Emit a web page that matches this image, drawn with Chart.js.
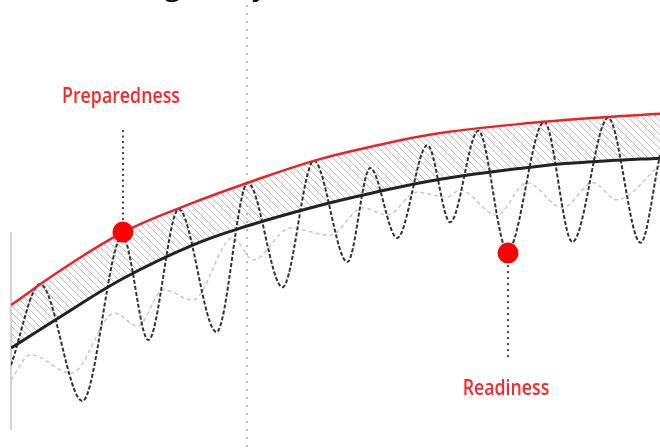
<!DOCTYPE html>
<html>
<head>
<meta charset="utf-8">
<title>Preparedness and Readiness</title>
<script src="https://cdn.jsdelivr.net/npm/chart.js@4.4.1/dist/chart.umd.min.js"></script>
<style>
  html, body { margin: 0; padding: 0; background: #fff; overflow: hidden; }
  #wrap { position: relative; width: 660px; height: 448px; }
  #title {
    position: absolute; left: 102px; top: -31.5px; margin: 0;
    font: 400 30px/30px 'Open Sans', sans-serif; color: #111; white-space: nowrap;
  }
  canvas { position: absolute; left: 0; top: 0; }
</style>
</head>
<body>
<div id="wrap">
  <h1 id="title">Being ready</h1>
  <canvas id="myChart" width="660" height="448"></canvas>
</div>
<script>
'use strict';

// ************* DATA *******************

// time axis for the two smooth trend curves
let trendX = [0, 4.5, 10.4, 16.8, 21.9, 28, 33.2, 39.7, 49.2, 55.2, 60];
// upper (red) curve
let preparednessLevel = [31.9, 39.5, 48.2, 54.7, 59.2, 64.1, 67.2, 70.3, 72.8, 73.9, 74.6];
// lower (black) curve
let baselineLevel = [22.3, 29.2, 37.9, 45.3, 49.6, 53.8, 56.8, 60.0, 63.0, 64.1, 64.7];

// black dashed wave - peaks and troughs
let activityX = [0, 2.7, 6.6, 10.3, 12.7, 15.5, 19.0, 21.9, 25.1, 28.0, 31.1, 33.2, 35.7, 38.5, 40.6, 43.2, 45.9, 49.3, 51.9, 55.2, 58.2, 60];
let activityLevel = [18.5, 36.6, 10.5, 47.3, 24.1, 53.3, 25.9, 59.2, 35.9, 64.1, 41.5, 62.5, 46.9, 67.6, 50.4, 70.8, 44.0, 72.8, 46.0, 73.7, 45.8, 65.4];

// light gray dashed wave
let echoX = [0, 1.8, 5.6, 9.6, 11.7, 14.1, 16.8, 20.5, 22.4, 25.8, 29.5, 32.5, 34.8, 37.5, 40.3, 41.5, 44.9, 47.7, 51.0, 53.8, 56.0, 60];
let echoLevel = [15.2, 20.8, 16.7, 30.1, 27.2, 35.3, 33.0, 46.9, 42.0, 49.1, 47.5, 53.6, 52.0, 57.1, 56.0, 57.6, 52.0, 59.2, 53.6, 59.2, 55.4, 63.2];

// the two called-out points
let markerNames = ['Preparedness', 'Readiness'];
let markerX = [10.35, 45.95];
let markerY = [48.2, 43.5];

// vertical dotted milestone + short axis on the left
let milestoneX = [21.8];
let axisSpan = [4, 48.2];

// ************* HELPERS *******************

function toPoints(xs, ys) {
  let pts = [];
  for (let i = 0; i < xs.length; i++) {
    pts.push({ x: xs[i], y: ys[i] });
  }
  return pts;
}

// diagonal hatch for the band between the curves
function makeHatch() {
  let s = 7;
  let c = document.createElement('canvas');
  c.width = s;
  c.height = s;
  let p = c.getContext('2d');
  p.strokeStyle = '#c2c2c2';
  p.lineWidth = 1;
  p.beginPath();
  p.moveTo(0, 0); p.lineTo(s, s);
  p.moveTo(-1, s - 1); p.lineTo(1, s + 1);
  p.moveTo(s - 1, -1); p.lineTo(s + 1, 1);
  p.stroke();
  return p.createPattern(c, 'repeat');
}

// draw a label squeezed to a narrow (condensed) look
function narrowText(ctx, text, cx, baseline, squeeze) {
  ctx.save();
  ctx.translate(cx, baseline);
  ctx.scale(squeeze, 1);
  ctx.fillText(text, 0, 0);
  ctx.restore();
}

// ************* DECORATION PLUGIN *******************

const decorations = {
  id: 'decorations',
  beforeDatasetsDraw(chart) {
    let ctx = chart.ctx;
    let xs = chart.scales.x;
    let ys = chart.scales.y;
    ctx.save();
    // milestone dotted line
    ctx.fillStyle = '#bbbbbb';
    milestoneX.forEach(function (v) {
      let px = Math.round(xs.getPixelForValue(v));
      for (let y = 5; y < chart.height; y += 8) {
        ctx.fillRect(px - 1, y, 2, 2);
      }
    });
    // short left axis
    ctx.strokeStyle = '#c4c4c4';
    ctx.lineWidth = 1.5;
    ctx.beginPath();
    let ax = xs.getPixelForValue(0);
    ctx.moveTo(ax, ys.getPixelForValue(axisSpan[0]));
    ctx.lineTo(ax, ys.getPixelForValue(axisSpan[1]));
    ctx.stroke();
    ctx.restore();
  },
  afterDraw(chart) {
    let ctx = chart.ctx;
    let xs = chart.scales.x;
    let ys = chart.scales.y;
    ctx.save();
    ctx.font = '600 22px "Open Sans", "DejaVu Sans", sans-serif';
    ctx.textAlign = 'center';
    ctx.textBaseline = 'alphabetic';
    for (let i = 0; i < markerNames.length; i++) {
      let px = Math.round(xs.getPixelForValue(markerX[i]));
      let py = ys.getPixelForValue(markerY[i]);
      // first label sits above its point, the second one below
      let up = i === 0;
      let y0 = up ? py - 14 : py + 12;
      let y1 = up ? py - 104 : py + 108;
      ctx.fillStyle = '#444';
      let step = up ? -5.5 : 6;
      for (let y = y0; up ? y > y1 : y < y1; y += step) {
        ctx.fillRect(px - 1, y, 2, 2);
      }
      // condensed look: 'Preparedness' ends up about 118px wide
      let w = ctx.measureText(markerNames[0]).width;
      let squeeze = Math.min(1, 118 / w);
      ctx.fillStyle = '#ff2626';
      narrowText(ctx, markerNames[i], px - 2, up ? py - 129 : py + 142, squeeze);
    }
    ctx.restore();
  }
};

// ************* CHART *******************

const ctx = document.getElementById('myChart').getContext('2d');

const chartObj = {
  type: 'line',
  data: {
    datasets: [
      {
        label: 'markers',
        data: toPoints(markerX, markerY),
        showLine: false,
        pointRadius: 10.5,
        pointBackgroundColor: '#ff0000',
        pointBorderWidth: 0,
        clip: false
      },
      {
        label: 'Preparedness',
        data: toPoints(trendX, preparednessLevel),
        borderColor: '#ec2229',
        borderWidth: 2.5,
        backgroundColor: makeHatch(),
        fill: '+1',
        pointRadius: 0,
        tension: 0.4
      },
      {
        label: 'Baseline',
        data: toPoints(trendX, baselineLevel),
        borderColor: '#222222',
        borderWidth: 3,
        fill: false,
        pointRadius: 0,
        tension: 0.4
      },
      {
        label: 'Activity',
        data: toPoints(activityX, activityLevel),
        borderColor: '#333333',
        borderWidth: 2,
        borderDash: [4, 2],
        fill: false,
        pointRadius: 0,
        cubicInterpolationMode: 'monotone'
      },
      {
        label: 'Echo',
        data: toPoints(echoX, echoLevel),
        borderColor: '#cacaca',
        borderWidth: 1.5,
        borderDash: [4, 3],
        fill: false,
        pointRadius: 0,
        cubicInterpolationMode: 'monotone'
      }
    ]
  },
  options: {
    responsive: false,
    animation: false,
    layout: { autoPadding: false, padding: { left: 11, right: 0, top: 0, bottom: 0 } },
    scales: {
      x: { type: 'linear', min: 0, max: 60, display: false },
      y: { min: 0, max: 100, display: false }
    },
    plugins: {
      legend: { display: false },
      tooltip: { enabled: false },
      filler: { drawTime: 'beforeDatasetsDraw' }
    }
  },
  plugins: [decorations]
};

const myChart = new Chart(ctx, chartObj); // eslint-disable-line
</script>
</body>
</html>
